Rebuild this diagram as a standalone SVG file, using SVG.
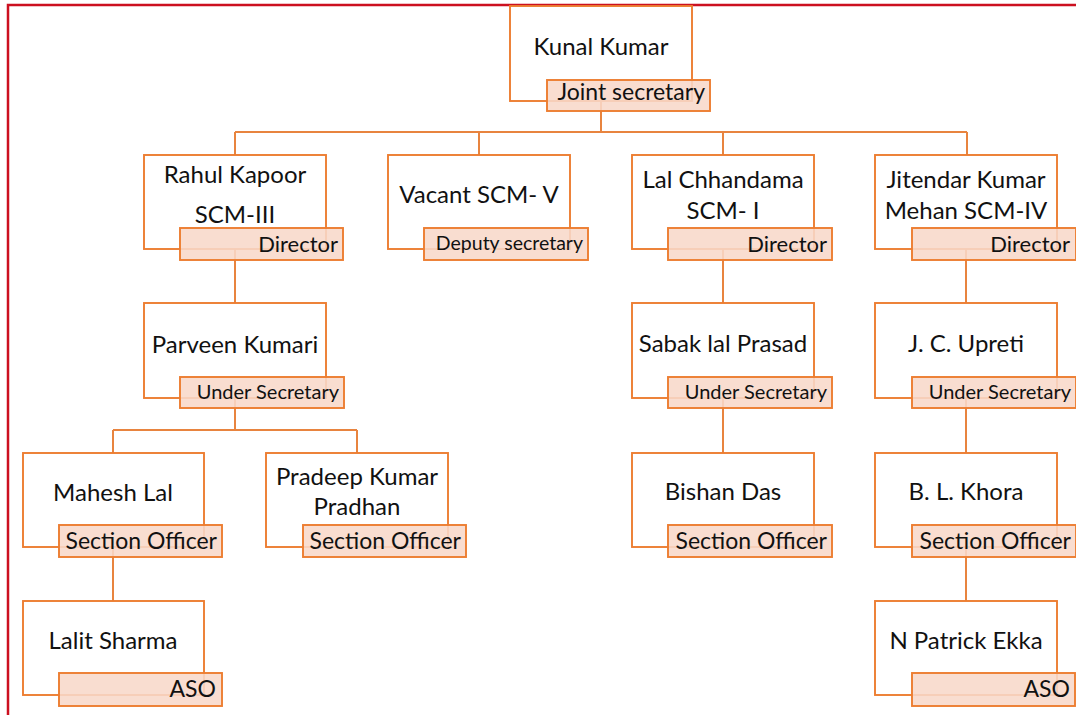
<svg xmlns="http://www.w3.org/2000/svg" width="1076" height="715" viewBox="0 0 1076 715">
  <style>
    .box { fill: #ffffff; stroke: #ED7D31; stroke-width: 1.9; }
    .tag { fill: #F8D8CA; fill-opacity: 0.88; stroke: #ED7D31; stroke-width: 1.9; }
    .link { fill: none; stroke: #E8843F; stroke-width: 2; }
    .name { font-family: Lato, "Liberation Sans", sans-serif; font-size: 24px; fill: #111111; text-anchor: middle; }
    .role { font-family: Lato, "Liberation Sans", sans-serif; font-size: 23px; fill: #111111; text-anchor: end; }
    .role.md { font-size: 22px; }
    .role.sm { font-size: 20px; }
    .role.xs { font-size: 19.5px; }
  </style>

  <rect width="1076" height="715" fill="#ffffff"/>
  <!-- outer frame -->
  <rect x="8" y="5" width="1100" height="800" fill="none" stroke="#CC1020" stroke-width="2.5"/>

  <!-- connectors -->
  <g id="connectors" class="link">
    <path d="M601 100 V132 M235 132 H967 M235 132 V155 M479 132 V155 M723 132 V155 M967 132 V155"/>
    <path d="M235 249 V303"/>
    <path d="M235 398 V430 M113 430 H357 M113 430 V453 M357 430 V453"/>
    <path d="M113 547 V601"/>
    <path d="M723 249 V303 M723 398 V453"/>
    <path d="M966 249 V303 M966 398 V453 M966 547 V601"/>
  </g>

  <g id="kunal-kumar">
    <rect class="box" x="510" y="6" width="182" height="95"/>
    <text class="name" x="601" y="55">Kunal Kumar</text>
    <rect class="tag" x="547" y="80" width="163" height="31"/>
    <text class="role" x="705" y="100">Joint secretary</text>
  </g>

  <g id="rahul-kapoor">
    <rect class="box" x="144" y="155" width="182" height="94"/>
    <text class="name" x="235" y="183">Rahul Kapoor</text>
    <text class="name" x="235" y="223">SCM-III</text>
    <rect class="tag" x="180" y="228" width="163" height="32"/>
    <text class="role md" x="338" y="252">Director</text>
  </g>

  <g id="vacant-scm-v">
    <rect class="box" x="388" y="155" width="182" height="94"/>
    <text class="name" x="479" y="203">Vacant SCM- V</text>
    <rect class="tag" x="424" y="228" width="164" height="32"/>
    <text class="role xs" x="583" y="250">Deputy secretary</text>
  </g>

  <g id="lal-chhandama">
    <rect class="box" x="632" y="155" width="182" height="94"/>
    <text class="name" x="723" y="188">Lal Chhandama</text>
    <text class="name" x="723" y="219">SCM- I</text>
    <rect class="tag" x="668" y="228" width="164" height="32"/>
    <text class="role md" x="827" y="252">Director</text>
  </g>

  <g id="jitendar-kumar-mehan">
    <rect class="box" x="875" y="155" width="182" height="94"/>
    <text class="name" x="966" y="188">Jitendar Kumar</text>
    <text class="name" x="966" y="219">Mehan SCM-IV</text>
    <rect class="tag" x="912" y="228" width="164" height="32"/>
    <text class="role md" x="1070" y="252">Director</text>
  </g>

  <g id="parveen-kumari">
    <rect class="box" x="144" y="303" width="182" height="95"/>
    <text class="name" x="235" y="353">Parveen Kumari</text>
    <rect class="tag" x="180" y="377" width="164" height="31"/>
    <text class="role sm" x="339" y="399">Under Secretary</text>
  </g>

  <g id="sabak-lal-prasad">
    <rect class="box" x="632" y="303" width="182" height="95"/>
    <text class="name" x="723" y="352">Sabak lal Prasad</text>
    <rect class="tag" x="668" y="377" width="164" height="31"/>
    <text class="role sm" x="827" y="399">Under Secretary</text>
  </g>

  <g id="jc-upreti">
    <rect class="box" x="875" y="303" width="182" height="95"/>
    <text class="name" x="966" y="352">J. C. Upreti</text>
    <rect class="tag" x="912" y="377" width="164" height="31"/>
    <text class="role sm" x="1071" y="399">Under Secretary</text>
  </g>

  <g id="mahesh-lal">
    <rect class="box" x="23" y="453" width="181" height="94"/>
    <text class="name" x="113" y="501">Mahesh Lal</text>
    <rect class="tag" x="59" y="525" width="163" height="32"/>
    <text class="role" x="217" y="549">Section Officer</text>
  </g>

  <g id="pradeep-kumar-pradhan">
    <rect class="box" x="266" y="453" width="182" height="94"/>
    <text class="name" x="357" y="485">Pradeep Kumar</text>
    <text class="name" x="357" y="515">Pradhan</text>
    <rect class="tag" x="303" y="525" width="163" height="32"/>
    <text class="role" x="461" y="549">Section Officer</text>
  </g>

  <g id="bishan-das">
    <rect class="box" x="632" y="453" width="182" height="94"/>
    <text class="name" x="723" y="500">Bishan Das</text>
    <rect class="tag" x="668" y="525" width="164" height="32"/>
    <text class="role" x="827" y="549">Section Officer</text>
  </g>

  <g id="bl-khora">
    <rect class="box" x="875" y="453" width="182" height="94"/>
    <text class="name" x="966" y="500">B. L. Khora</text>
    <rect class="tag" x="912" y="525" width="164" height="32"/>
    <text class="role" x="1071" y="549">Section Officer</text>
  </g>

  <g id="lalit-sharma">
    <rect class="box" x="23" y="601" width="181" height="94"/>
    <text class="name" x="113" y="649">Lalit Sharma</text>
    <rect class="tag" x="59" y="673" width="163" height="33"/>
    <text class="role" x="216" y="697">ASO</text>
  </g>

  <g id="n-patrick-ekka">
    <rect class="box" x="875" y="601" width="182" height="94"/>
    <text class="name" x="966" y="649">N Patrick Ekka</text>
    <rect class="tag" x="912" y="673" width="163" height="33"/>
    <text class="role" x="1070" y="697">ASO</text>
  </g>
</svg>
